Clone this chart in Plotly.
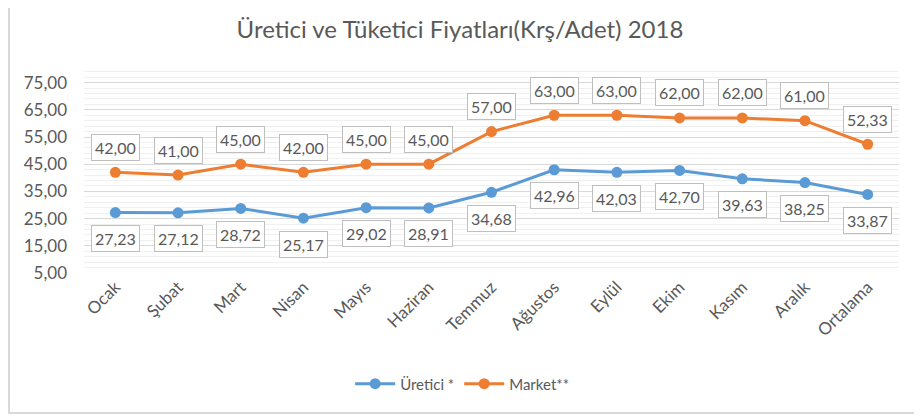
import plotly.graph_objects as go

months = ['Ocak', 'Şubat', 'Mart', 'Nisan', 'Mayıs', 'Haziran', 'Temmuz',
          'Ağustos', 'Eylül', 'Ekim', 'Kasım', 'Aralık', 'Ortalama']
uretici = [27.23, 27.12, 28.72, 25.17, 29.02, 28.91, 34.68,
           42.96, 42.03, 42.70, 39.63, 38.25, 33.87]
market = [42.00, 41.00, 45.00, 42.00, 45.00, 45.00, 57.00,
          63.00, 63.00, 62.00, 62.00, 61.00, 52.33]
ytick_vals = [5, 15, 25, 35, 45, 55, 65, 75]

BLUE = '#5B9BD5'
ORANGE = '#ED7D31'
GREY = '#595959'
FONT = 'Lato, Liberation Sans, sans-serif'

fig = go.Figure()

fig.add_trace(go.Scatter(
    x=months, y=uretici, name='Üretici *', mode='lines+markers',
    line=dict(color=BLUE, width=3), marker=dict(color=BLUE, size=11),
))
fig.add_trace(go.Scatter(
    x=months, y=market, name='Market**', mode='lines+markers',
    line=dict(color=ORANGE, width=3), marker=dict(color=ORANGE, size=11),
))

# boxed data labels: orange above the point, blue below
annotations = []
for m, v in zip(months, market):
    annotations.append(dict(
        x=m, y=v, text='{:.2f}'.format(v).replace('.', ','), showarrow=False,
        yshift=25, font=dict(family=FONT, size=16, color=GREY),
        bgcolor='white', bordercolor='#BFBFBF', borderwidth=1, borderpad=3,
    ))
for m, v in zip(months, uretici):
    annotations.append(dict(
        x=m, y=v, text='{:.2f}'.format(v).replace('.', ','), showarrow=False,
        yshift=-26, font=dict(family=FONT, size=16, color=GREY),
        bgcolor='white', bordercolor='#BFBFBF', borderwidth=1, borderpad=3,
    ))

# page has an 8px body margin, so the figure is sized to fit inside the window
fig.update_layout(
    width=914, height=409,
    paper_bgcolor='white', plot_bgcolor='white',
    separators=',.',
    margin=dict(l=76, r=23, t=61, b=144),
    title=dict(text='Üretici ve Tüketici Fiyatları(Krş/Adet) 2018',
               x=0.4945, xanchor='center', y=0.946, yanchor='middle',
               font=dict(family=FONT, size=24, color=GREY)),
    font=dict(family=FONT, color=GREY),
    showlegend=True,
    legend=dict(orientation='h', x=0.464, xanchor='center', y=-0.544, yanchor='middle',
                font=dict(family=FONT, size=15, color=GREY), itemwidth=40),
    annotations=annotations,
    shapes=[dict(type='path', xref='paper', yref='paper',
                 path='M -0.092,1.4 L -0.092,-0.686 L 1.0245,-0.686 L 1.0245,1.4',
                 line=dict(color='#D9D9D9', width=2))],
)

fig.update_xaxes(
    range=[-0.5, 12.5],
    tickangle=-45, tickfont=dict(family=FONT, size=17, color=GREY),
    showgrid=False, showline=False, ticks='',
)
fig.update_yaxes(
    range=[5, 80], tickvals=ytick_vals, tickformat='.2f',
    tickfont=dict(family=FONT, size=17, color=GREY), ticklabelstandoff=16,
    showgrid=True, gridcolor='#D9D9D9', gridwidth=1,
    zeroline=False, showline=False, ticks='',
    minor=dict(dtick=2, tick0=5, showgrid=True, gridcolor='#F0F0F0', gridwidth=1),
)

fig.write_html('out.html')
